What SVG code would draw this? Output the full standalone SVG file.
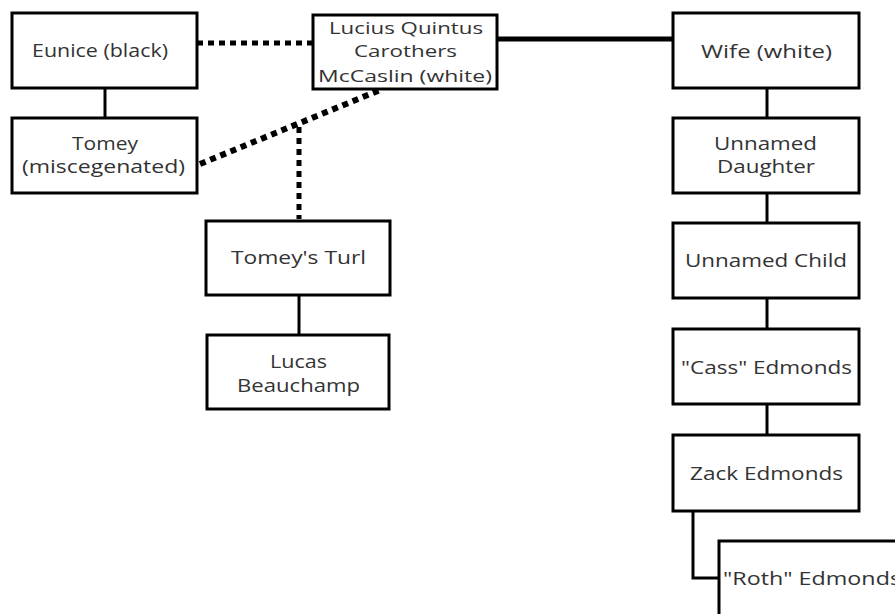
<svg xmlns="http://www.w3.org/2000/svg" width="895" height="614" viewBox="0 0 895 614">
<style>
.box{fill:#fff;stroke:#000;stroke-width:3}
.t{font-family:"Open Sans","DejaVu Sans",sans-serif;font-size:18px;fill:#333;text-anchor:middle}
.s{font-size:17px}
.ln{stroke:#000;stroke-width:3;fill:none}
.dot{stroke:#000;stroke-width:5;stroke-dasharray:6 5;fill:none}
</style>
<rect width="895" height="614" fill="#fff"/>
<g id="connectors">
<line class="ln" x1="105" y1="88" x2="105" y2="118"/>
<line class="dot" x1="197" y1="43" x2="313" y2="43"/>
<line class="dot" style="stroke-width:6" x1="200" y1="164" x2="380" y2="90"/>
<line class="dot" x1="299" y1="127" x2="299" y2="219"/>
<line stroke="#000" stroke-width="5" x1="497" y1="39" x2="673" y2="39"/>
<line class="ln" x1="767" y1="88" x2="767" y2="118"/>
<line class="ln" x1="767" y1="193" x2="767" y2="223"/>
<line class="ln" x1="767" y1="298" x2="767" y2="329"/>
<line class="ln" x1="767" y1="404" x2="767" y2="435"/>
<line class="ln" x1="299" y1="295" x2="299" y2="335"/>
<polyline class="ln" points="693,511 693,578 719,578"/>
</g>
<g id="eunice"><rect class="box" x="12" y="13" width="185" height="75"/><text class="t" x="100" y="57" textLength="136" lengthAdjust="spacingAndGlyphs">Eunice (black)</text></g>
<g id="tomey"><rect class="box" x="12" y="118" width="185" height="75"/><text class="t" x="105" y="150" textLength="66" lengthAdjust="spacingAndGlyphs">Tomey</text><text class="t" x="103.5" y="173" textLength="163" lengthAdjust="spacingAndGlyphs">(miscegenated)</text></g>
<g id="lucius"><rect class="box" x="313" y="15" width="184" height="74"/><text class="t s" x="406" y="34" textLength="154" lengthAdjust="spacingAndGlyphs">Lucius Quintus</text><text class="t s" x="405.5" y="57" textLength="103" lengthAdjust="spacingAndGlyphs">Carothers</text><text class="t s" x="405" y="82" textLength="174" lengthAdjust="spacingAndGlyphs">McCaslin (white)</text></g>
<g id="wife"><rect class="box" x="673" y="13" width="186" height="75"/><text class="t" x="766.5" y="58" textLength="131" lengthAdjust="spacingAndGlyphs">Wife (white)</text></g>
<g id="daughter"><rect class="box" x="673" y="118" width="186" height="75"/><text class="t" x="765.5" y="150" textLength="103" lengthAdjust="spacingAndGlyphs">Unnamed</text><text class="t" x="766" y="173" textLength="98" lengthAdjust="spacingAndGlyphs">Daughter</text></g>
<g id="child"><rect class="box" x="673" y="223" width="186" height="75"/><text class="t" x="766" y="267" textLength="162" lengthAdjust="spacingAndGlyphs">Unnamed Child</text></g>
<g id="cass"><rect class="box" x="673" y="329" width="186" height="75"/><text class="t" x="766.5" y="374" textLength="171" lengthAdjust="spacingAndGlyphs">"Cass" Edmonds</text></g>
<g id="zack"><rect class="box" x="673" y="435" width="186" height="76"/><text class="t" x="766.5" y="480" textLength="153" lengthAdjust="spacingAndGlyphs">Zack Edmonds</text></g>
<g id="roth"><rect class="box" x="719" y="541" width="200" height="90"/><text class="t" style="text-anchor:start" x="723" y="585" textLength="178" lengthAdjust="spacingAndGlyphs">"Roth" Edmonds</text></g>
<g id="turl"><rect class="box" x="206" y="221" width="184" height="74"/><text class="t" x="298.5" y="264" textLength="135" lengthAdjust="spacingAndGlyphs">Tomey's Turl</text></g>
<g id="lucas"><rect class="box" x="207" y="335" width="182" height="74"/><text class="t" x="298.5" y="368" textLength="57" lengthAdjust="spacingAndGlyphs">Lucas</text><text class="t" x="298.5" y="392" textLength="123" lengthAdjust="spacingAndGlyphs">Beauchamp</text></g>
</svg>
